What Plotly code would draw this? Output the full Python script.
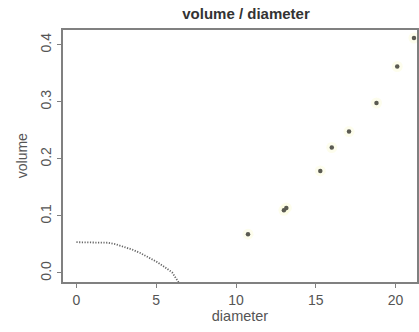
import plotly.graph_objects as go

# data
diameter = [10.75, 13.0, 13.15, 15.28, 16.0, 17.08, 18.8, 20.1, 21.15]
volume = [0.068, 0.110, 0.114, 0.179, 0.220, 0.248, 0.298, 0.362, 0.412]

curve_x = [0, 0.5, 1, 1.5, 2, 2.5, 3, 3.5, 4, 4.5, 5, 5.5, 6, 6.4]
curve_y = [0.054, 0.054, 0.054, 0.054, 0.053, 0.050, 0.046, 0.041, 0.035,
           0.028, 0.020, 0.011, 0.001, -0.016]

x_ticks = [0, 5, 10, 15, 20]
y_ticks = [0.0, 0.1, 0.2, 0.3, 0.4]
y_ticklabels = ["0.0", "0.1", "0.2", "0.3", "0.4"]

W, H = 419, 332
L, T, B = 63, 30, 50
px_per_x = 16.05
x0_px = 76.5
xmin = (L - x0_px) / px_per_x
xmax = (W - x0_px) / px_per_x
ymin, ymax = -0.0158, 0.426

axis_col = "#808080"
text_col = "#555555"
font = "Liberation Sans, Arial, sans-serif"

fig = go.Figure()
fig.add_trace(go.Scatter(x=curve_x, y=curve_y, mode="lines",
                         line=dict(color="#666666", width=1.8, dash="1.2px,1.5px"),
                         hoverinfo="skip", showlegend=False))
# faint halo
fig.add_trace(go.Scatter(x=diameter, y=volume, mode="markers",
                         marker=dict(color="rgba(250,250,215,0.45)", size=11),
                         hoverinfo="skip", showlegend=False))
fig.add_trace(go.Scatter(x=diameter, y=volume, mode="markers",
                         marker=dict(color="#5a5a52", size=4.5),
                         showlegend=False))

fig.update_layout(
    width=W, height=H,
    margin=dict(l=L, r=0, t=T, b=B),
    paper_bgcolor="white", plot_bgcolor="white",
    font=dict(family=font, size=12, color=text_col),
    title=dict(text="<b>volume / diameter</b>", xref="container", x=246 / W,
               xanchor="center", yref="container", y=1 - 14 / H, yanchor="middle",
               font=dict(size=15, color="#333333")),
    xaxis=dict(range=[xmin, xmax], tickvals=x_ticks, showgrid=False, zeroline=False,
               showline=True, linecolor=axis_col, linewidth=2, mirror=True,
               ticks="outside", ticklen=4, tickcolor=axis_col,
               tickfont=dict(size=14, color=text_col),
               title=dict(text="diameter", standoff=4, font=dict(size=14.5, color=text_col))),
    yaxis=dict(range=[ymin, ymax], tickvals=y_ticks, ticktext=y_ticklabels,
               showgrid=False, zeroline=False, tickangle=-90,
               showline=True, linecolor=axis_col, linewidth=2, mirror=True,
               ticks="outside", ticklen=4, tickcolor=axis_col,
               tickfont=dict(size=14, color=text_col)),
    annotations=[dict(text="volume", textangle=-90, xref="paper", yref="paper",
                      x=-(L - 22) / (W - L), y=0.5, xanchor="center", yanchor="middle",
                      showarrow=False, font=dict(size=14, color=text_col))],
)

fig.write_html("out.html")
